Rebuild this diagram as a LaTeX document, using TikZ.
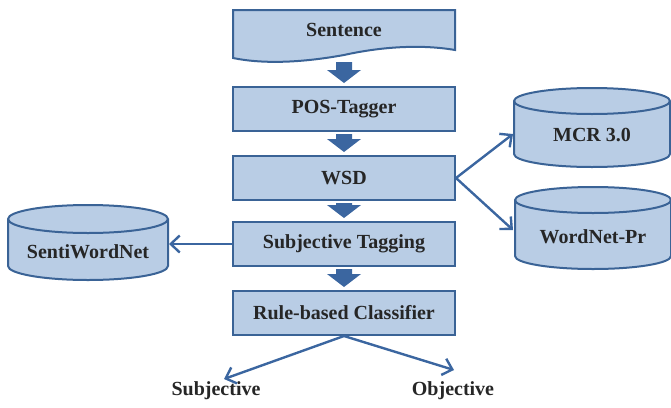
\documentclass[tikz,border=0pt]{standalone}
\usepackage{fontspec}
\setmainfont{Liberation Serif}
\usetikzlibrary{arrows.meta,calc}
\definecolor{boxfill}{RGB}{185,205,229}
\definecolor{boxline}{RGB}{58,99,150}
\definecolor{flow}{RGB}{59,102,160}

% database cylinder: centre x, top y, bottom y, half width, ellipse radius
\newcommand{\dbcylinder}[5]{%
  \filldraw[dbline] (#1-#4,#2+#5) -- (#1-#4,#3-#5)
    arc[start angle=180,end angle=0,x radius=#4,y radius=#5]
    -- (#1+#4,#2+#5)
    arc[start angle=0,end angle=-180,x radius=#4,y radius=#5] -- cycle;
  \draw[dbline,fill=none] (#1-#4,#2+#5)
    arc[start angle=180,end angle=0,x radius=#4,y radius=#5];
}
% thick block arrow from one point down to another
\newcommand{\fatarrow}[2]{%
  \fill[flow] let \p1=(#1), \p2=(#2) in
    (\x1-8pt,\y1-2pt) -- (\x1+8pt,\y1-2pt) -- (\x1+8pt,\y2+16pt)
    -- (\x1+17pt,\y2+16pt) -- (\x1,\y2+3pt) -- (\x1-17pt,\y2+16pt)
    -- (\x1-8pt,\y2+16pt) -- cycle;
}

\begin{document}
\begin{tikzpicture}[x=1pt,y=-1pt,
  every node/.style={font=\fontsize{20}{23}\selectfont\bfseries, text=black!85},
  stage/.style={draw=boxline, fill=boxfill, line width=2pt,
    minimum width=222pt, minimum height=44pt, inner sep=0pt},
  dbline/.style={draw=boxline, fill=boxfill, line width=2pt},
  dblabel/.style={inner sep=0pt, minimum width=150pt, minimum height=20pt},
  link/.style={draw=flow, line width=2.4pt,
    -{Straight Barb[length=9pt,width=17pt,line width=2.4pt]}}]
\useasboundingbox (0,0) rectangle (671,407);

% input document with a wavy lower edge
\filldraw[dbline] (233,10) -- (455,10) -- (455,50)
  .. controls (420,44) and (380,47) .. (344,55)
  .. controls (300,63) and (262,64) .. (233,58) -- cycle;
\node[inner sep=0pt, minimum width=222pt, minimum height=40pt] (sent) at (344,30) {Sentence};
\coordinate (sentout) at ($(sent.south)+(0,10)$);

\node[stage] (pos) at (344,109) {POS-Tagger};
\node[stage] (wsd) at (344,178) {WSD};
\node[stage] (subj) at (344,244) {Subjective Tagging};
\node[stage] (rule) at (344,313) {Rule-based Classifier};

\fatarrow{sentout}{pos.north}
\fatarrow{pos.south}{wsd.north}
\fatarrow{wsd.south}{subj.north}
\fatarrow{subj.south}{rule.north}

% lexical resources
\dbcylinder{592}{88}{167}{78}{13}
\node[dblabel] (mcr) at (592,135) {MCR 3.0};
\dbcylinder{593}{187}{269}{78}{13}
\node[dblabel] (wnp) at (593,237) {WordNet-Pr};
\dbcylinder{88}{205}{280}{80}{14}
\node[dblabel] (swn) at (88,252) {SentiWordNet};

\coordinate (mcrin) at (513,134);
\coordinate (wnpin) at (513,230);
\coordinate (swnin) at (169,244);
\draw[link] (wsd.east) -- (mcrin);
\draw[link] (wsd.east) -- (wnpin);
\draw[link] (subj.west) -- (swnin);

% outputs
\node[inner sep=0pt] (outs) at (216,391) {Subjective};
\node[inner sep=0pt] (outo) at (453,391) {Objective};
\coordinate (subjend) at (224,379);
\coordinate (objend) at (454,370);
\draw[link] (rule.south) -- (subjend);
\draw[link] (rule.south) -- (objend);
\end{tikzpicture}
\end{document}
